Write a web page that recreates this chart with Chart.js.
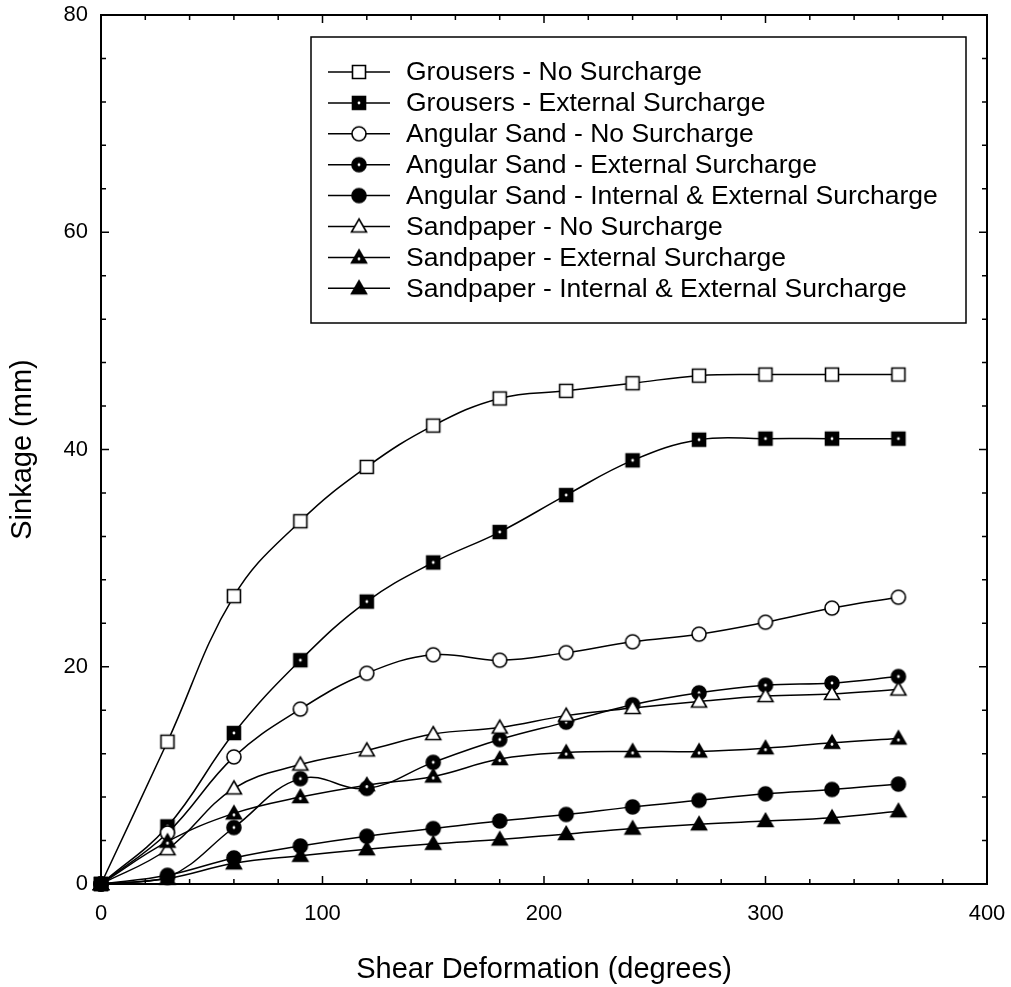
<!DOCTYPE html>
<html>
<head>
<meta charset="utf-8">
<script src="https://cdn.jsdelivr.net/npm/chart.js@4.4.1/dist/chart.umd.min.js"></script>
<style>
  body { margin: 0; background: #fff; }
  canvas { display: block; }
</style>
</head>
<body>
<canvas id="chart" width="1011" height="987"></canvas>
<script>
// shear deformation (degrees)
var degrees = [0, 30, 60, 90, 120, 150, 180, 210, 240, 270, 300, 330, 360];

// sinkage (mm)
var grousersNo   = [0, 13.1, 26.5, 33.4, 38.4, 42.2, 44.7, 45.4, 46.1, 46.8, 46.9, 46.9, 46.9];
var grousersExt  = [0, 5.3, 13.9, 20.6, 26.0, 29.6, 32.4, 35.8, 39.0, 40.9, 41.0, 41.0, 41.0];
var sandNo       = [0, 4.7, 11.7, 16.1, 19.4, 21.1, 20.6, 21.3, 22.3, 23.0, 24.1, 25.4, 26.4];
var sandExt      = [0, 0.6, 5.2, 9.7, 8.8, 11.2, 13.3, 14.9, 16.5, 17.6, 18.3, 18.5, 19.1];
var sandInt      = [0, 0.8, 2.4, 3.5, 4.4, 5.1, 5.8, 6.4, 7.1, 7.7, 8.3, 8.7, 9.2];
var paperNo      = [0, 3.2, 8.8, 11.0, 12.3, 13.8, 14.4, 15.5, 16.2, 16.8, 17.3, 17.5, 17.9];
var paperExt     = [0, 3.9, 6.5, 8.0, 9.1, 9.9, 11.5, 12.1, 12.2, 12.2, 12.5, 13.0, 13.4];
var paperInt     = [0, 0.5, 1.9, 2.6, 3.2, 3.7, 4.1, 4.6, 5.1, 5.5, 5.8, 6.1, 6.7];

var seriesLabels = [
    'Grousers - No Surcharge',
    'Grousers - External Surcharge',
    'Angular Sand - No Surcharge',
    'Angular Sand - External Surcharge',
    'Angular Sand - Internal & External Surcharge',
    'Sandpaper - No Surcharge',
    'Sandpaper - External Surcharge',
    'Sandpaper - Internal & External Surcharge'
];
var seriesValues = [grousersNo, grousersExt, sandNo, sandExt, sandInt, paperNo, paperExt, paperInt];
var seriesMarkers = ['squareOpen', 'squareDot', 'circleOpen', 'circleDot', 'circleFill', 'triOpen', 'triDot', 'triFill'];

var FONT = '"Liberation Sans", Arial, sans-serif';

// little canvases used as point styles
function makeMarker(kind) {
    var c = document.createElement('canvas');
    c.width = 20; c.height = 20;
    var g = c.getContext('2d');
    g.translate(10, 10);
    g.lineWidth = 1.6;
    g.strokeStyle = '#000';
    var open = kind.indexOf('Open') > 0;
    g.fillStyle = open ? '#fff' : '#000';
    g.beginPath();
    if (kind.indexOf('square') === 0) {
        g.rect(-6.5, -6.5, 13, 13);
    } else if (kind.indexOf('circle') === 0) {
        g.arc(0, 0, 7, 0, Math.PI * 2);
    } else {
        g.moveTo(0, -7.5);
        g.lineTo(7.5, 5.5);
        g.lineTo(-7.5, 5.5);
        g.closePath();
    }
    g.fill();
    g.stroke();
    if (kind.indexOf('Dot') > 0) {
        g.fillStyle = '#fff';
        g.beginPath();
        g.arc(0, kind.indexOf('tri') === 0 ? 1.5 : 0, 1.4, 0, Math.PI * 2);
        g.fill();
    }
    return c;
}

var markerImages = seriesMarkers.map(makeMarker);

var datasets = seriesValues.map(function (vals, i) {
    return {
        label: seriesLabels[i],
        data: degrees.map(function (d, j) { return { x: d, y: vals[j] }; }),
        borderColor: '#000',
        borderWidth: 1.5,
        pointStyle: markerImages[i],
        tension: 0.4,
        order: seriesLabels.length - i,
        clip: false
    };
});

// frame + inward ticks on all four sides
var framePlugin = {
    id: 'frame',
    beforeDatasetsDraw: function (chart) {
        var ctx = chart.ctx, a = chart.chartArea;
        var xs = chart.scales.x, ys = chart.scales.y;
        ctx.save();
        ctx.strokeStyle = '#000';
        ctx.lineWidth = 2;
        ctx.strokeRect(a.left, a.top, a.right - a.left, a.bottom - a.top);
        ctx.lineWidth = 1.5;
        ctx.beginPath();
        for (var v = 0; v <= 400; v += 20) {
            var px = xs.getPixelForValue(v);
            var len = v % 100 === 0 ? 8 : 5;
            ctx.moveTo(px, a.bottom); ctx.lineTo(px, a.bottom - len);
            ctx.moveTo(px, a.top); ctx.lineTo(px, a.top + len);
        }
        for (var w = 0; w <= 80; w += 4) {
            var py = ys.getPixelForValue(w);
            var l2 = w % 20 === 0 ? 8 : 5;
            ctx.moveTo(a.left, py); ctx.lineTo(a.left + l2, py);
            ctx.moveTo(a.right, py); ctx.lineTo(a.right - l2, py);
        }
        ctx.stroke();
        ctx.restore();
    }
};

// boxed legend inside the plot
var legendPlugin = {
    id: 'boxLegend',
    afterDatasetsDraw: function (chart) {
        var ctx = chart.ctx;
        var bx = 311, by = 37, bw = 655, bh = 286;
        ctx.save();
        ctx.fillStyle = '#fff';
        ctx.fillRect(bx, by, bw, bh);
        ctx.strokeStyle = '#000';
        ctx.lineWidth = 1.5;
        ctx.strokeRect(bx, by, bw, bh);
        ctx.font = '26.5px ' + FONT;
        ctx.textBaseline = 'middle';
        ctx.textAlign = 'left';
        chart.data.datasets.forEach(function (ds, i) {
            var y = 72 + i * 30.9;
            ctx.beginPath();
            ctx.moveTo(328, y); ctx.lineTo(390, y);
            ctx.stroke();
            ctx.drawImage(markerImages[i], 359 - 10, y - 10);
            ctx.fillStyle = '#000';
            ctx.fillText(ds.label, 406, y + 1);
        });
        ctx.restore();
    }
};

function noPad(s) {
    s.paddingTop = 0; s.paddingBottom = 0; s.paddingLeft = 0; s.paddingRight = 0;
}

var chart = new Chart('chart', {
    type: 'line',
    data: { datasets: datasets },
    plugins: [framePlugin, legendPlugin],
    options: {
        responsive: false,
        animation: false,
        layout: { padding: { top: 15, right: 24, left: 0, bottom: 0 } },
        plugins: { legend: { display: false }, tooltip: { enabled: false } },
        scales: {
            x: {
                type: 'linear',
                min: 0, max: 400,
                grid: { display: false, drawTicks: false },
                border: { display: false },
                ticks: { stepSize: 100, color: '#000', padding: 17, font: { family: FONT, size: 22 } },
                title: { display: true, text: 'Shear Deformation (degrees)', color: '#000', padding: 0, font: { family: FONT, size: 29 } },
                afterFit: function (s) { s.height = 103; noPad(s); }
            },
            y: {
                min: 0, max: 80,
                grid: { display: false, drawTicks: false },
                border: { display: false },
                ticks: { stepSize: 20, color: '#000', padding: 13, font: { family: FONT, size: 22 } },
                title: { display: true, text: 'Sinkage (mm)', color: '#000', padding: { top: 6 }, font: { family: FONT, size: 29 } },
                afterFit: function (s) { s.width = 101; noPad(s); }
            }
        }
    }
});
</script>
</body>
</html>
